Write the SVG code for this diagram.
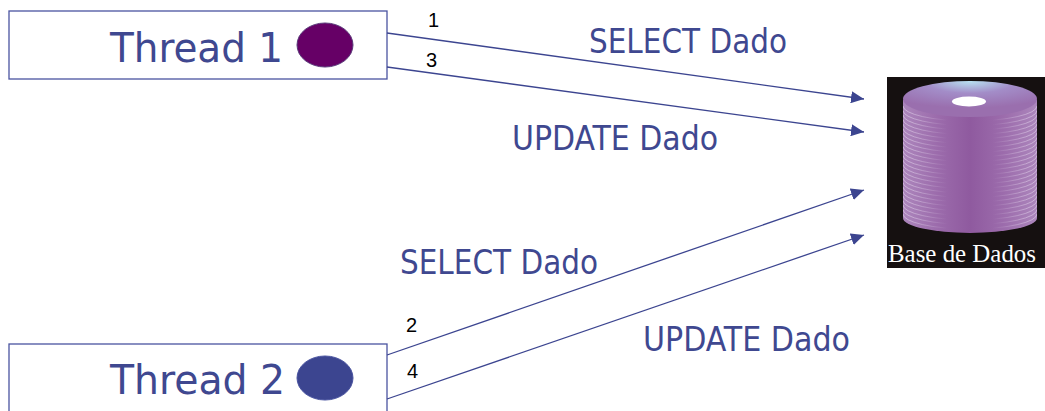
<svg xmlns="http://www.w3.org/2000/svg" width="1045" height="411" viewBox="0 0 1045 411">
  <style>
    .box { fill: #ffffff; stroke: #4a54a0; stroke-width: 1.3; }
    .thread { font-family: "DejaVu Sans Condensed", "DejaVu Sans", sans-serif; font-size: 40px; fill: #3f4890; }
    .lbl { font-family: "DejaVu Sans Condensed", "DejaVu Sans", sans-serif; font-size: 33px; fill: #3f4890; }
    .num { font-family: "Liberation Sans", Arial, sans-serif; font-size: 20px; fill: #000000; }
    .conn { stroke: #3c4590; stroke-width: 1.3; fill: none; marker-end: url(#arrow); }
    .stripe { fill: none; stroke: url(#stripeG); stroke-width: 1; }
  </style>
  <defs>
    <marker id="arrow" markerUnits="userSpaceOnUse" markerWidth="14" markerHeight="12" refX="13" refY="6" orient="auto">
      <path d="M0,0 L13,6 L0,12 z" fill="#3c4590"/>
    </marker>
    <linearGradient id="cylBody" x1="0" y1="0" x2="1" y2="0">
      <stop offset="0" stop-color="#ac86bc"/>
      <stop offset="0.25" stop-color="#9c6cac"/>
      <stop offset="0.5" stop-color="#8f5a9f"/>
      <stop offset="0.75" stop-color="#9c6cac"/>
      <stop offset="1" stop-color="#ac86bc"/>
    </linearGradient>
    <radialGradient id="topG" cx="0.5" cy="0" r="0.75">
      <stop offset="0" stop-color="#b8e2f2"/>
      <stop offset="0.45" stop-color="#a38dc8"/>
      <stop offset="1" stop-color="#9a6fae"/>
    </radialGradient>
    <linearGradient id="stripeG" x1="903" y1="0" x2="1037" y2="0" gradientUnits="userSpaceOnUse">
      <stop offset="0" stop-color="#d8c4e2" stop-opacity="0.8"/>
      <stop offset="0.33" stop-color="#d8c4e2" stop-opacity="0"/>
      <stop offset="0.67" stop-color="#d8c4e2" stop-opacity="0"/>
      <stop offset="1" stop-color="#d8c4e2" stop-opacity="0.8"/>
    </linearGradient>
    <clipPath id="dbClip">
      <path d="M903,100 L903,218 A67,15 0 0 0 1037,218 L1037,100 Z"/>
    </clipPath>
  </defs>

  <g id="thread1">
    <rect class="box" x="9" y="11" width="378" height="68"/>
    <text class="thread" x="110" y="62" textLength="173" lengthAdjust="spacingAndGlyphs">Thread 1</text>
    <ellipse cx="325" cy="45" rx="28" ry="22" fill="#660066" stroke="#5a3a7a" stroke-width="1"/>
  </g>

  <g id="thread2">
    <rect class="box" x="9" y="344" width="378" height="80"/>
    <text class="thread" x="110" y="394" textLength="175" lengthAdjust="spacingAndGlyphs">Thread 2</text>
    <ellipse cx="325" cy="378" rx="28" ry="22" fill="#3c4590" stroke="#4a54a0" stroke-width="1"/>
  </g>

  <g id="database">
    <rect x="887" y="77" width="170" height="191" fill="#151010"/>
    <path d="M903,100 L903,218 A67,15 0 0 0 1037,218 L1037,100 Z" fill="url(#cylBody)"/>
    <g clip-path="url(#dbClip)">
      <path class="stripe" d="M903,106 A67,15 0 0 0 1037,106"/>
      <path class="stripe" d="M903,110.5 A67,15 0 0 0 1037,110.5"/>
      <path class="stripe" d="M903,115 A67,15 0 0 0 1037,115"/>
      <path class="stripe" d="M903,119.5 A67,15 0 0 0 1037,119.5"/>
      <path class="stripe" d="M903,124 A67,15 0 0 0 1037,124"/>
      <path class="stripe" d="M903,128.5 A67,15 0 0 0 1037,128.5"/>
      <path class="stripe" d="M903,133 A67,15 0 0 0 1037,133"/>
      <path class="stripe" d="M903,137.5 A67,15 0 0 0 1037,137.5"/>
      <path class="stripe" d="M903,142 A67,15 0 0 0 1037,142"/>
      <path class="stripe" d="M903,146.5 A67,15 0 0 0 1037,146.5"/>
      <path class="stripe" d="M903,151 A67,15 0 0 0 1037,151"/>
      <path class="stripe" d="M903,155.5 A67,15 0 0 0 1037,155.5"/>
      <path class="stripe" d="M903,160 A67,15 0 0 0 1037,160"/>
      <path class="stripe" d="M903,164.5 A67,15 0 0 0 1037,164.5"/>
      <path class="stripe" d="M903,169 A67,15 0 0 0 1037,169"/>
      <path class="stripe" d="M903,173.5 A67,15 0 0 0 1037,173.5"/>
      <path class="stripe" d="M903,178 A67,15 0 0 0 1037,178"/>
      <path class="stripe" d="M903,182.5 A67,15 0 0 0 1037,182.5"/>
      <path class="stripe" d="M903,187 A67,15 0 0 0 1037,187"/>
      <path class="stripe" d="M903,191.5 A67,15 0 0 0 1037,191.5"/>
      <path class="stripe" d="M903,196 A67,15 0 0 0 1037,196"/>
      <path class="stripe" d="M903,200.5 A67,15 0 0 0 1037,200.5"/>
      <path class="stripe" d="M903,205 A67,15 0 0 0 1037,205"/>
      <path class="stripe" d="M903,209.5 A67,15 0 0 0 1037,209.5"/>
      <path class="stripe" d="M903,214 A67,15 0 0 0 1037,214"/>
    </g>
    <ellipse cx="970" cy="99" rx="67" ry="18" fill="url(#topG)"/>
    <ellipse cx="969" cy="101.5" rx="17" ry="5" fill="#ffffff"/>
    <text x="888" y="262" font-family="'Liberation Serif', 'Times New Roman', serif" font-size="26" fill="#ffffff" textLength="148" lengthAdjust="spacingAndGlyphs">Base de Dados</text>
  </g>

  <g id="connectors">
    <line class="conn" x1="387" y1="33" x2="864" y2="99"/>
    <line class="conn" x1="387" y1="67" x2="864" y2="132"/>
    <line class="conn" x1="387" y1="355" x2="864" y2="190"/>
    <line class="conn" x1="387" y1="399" x2="864" y2="235"/>
  </g>

  <g id="labels">
    <text class="num" x="428" y="27">1</text>
    <text class="num" x="426" y="67">3</text>
    <text class="num" x="406" y="332">2</text>
    <text class="num" x="407" y="378">4</text>
    <text class="lbl" x="589" y="53" textLength="198" lengthAdjust="spacingAndGlyphs">SELECT Dado</text>
    <text class="lbl" x="512" y="150" textLength="206" lengthAdjust="spacingAndGlyphs">UPDATE Dado</text>
    <text class="lbl" x="400" y="274" textLength="198" lengthAdjust="spacingAndGlyphs">SELECT Dado</text>
    <text class="lbl" x="643" y="351" textLength="207" lengthAdjust="spacingAndGlyphs">UPDATE Dado</text>
  </g>
</svg>
